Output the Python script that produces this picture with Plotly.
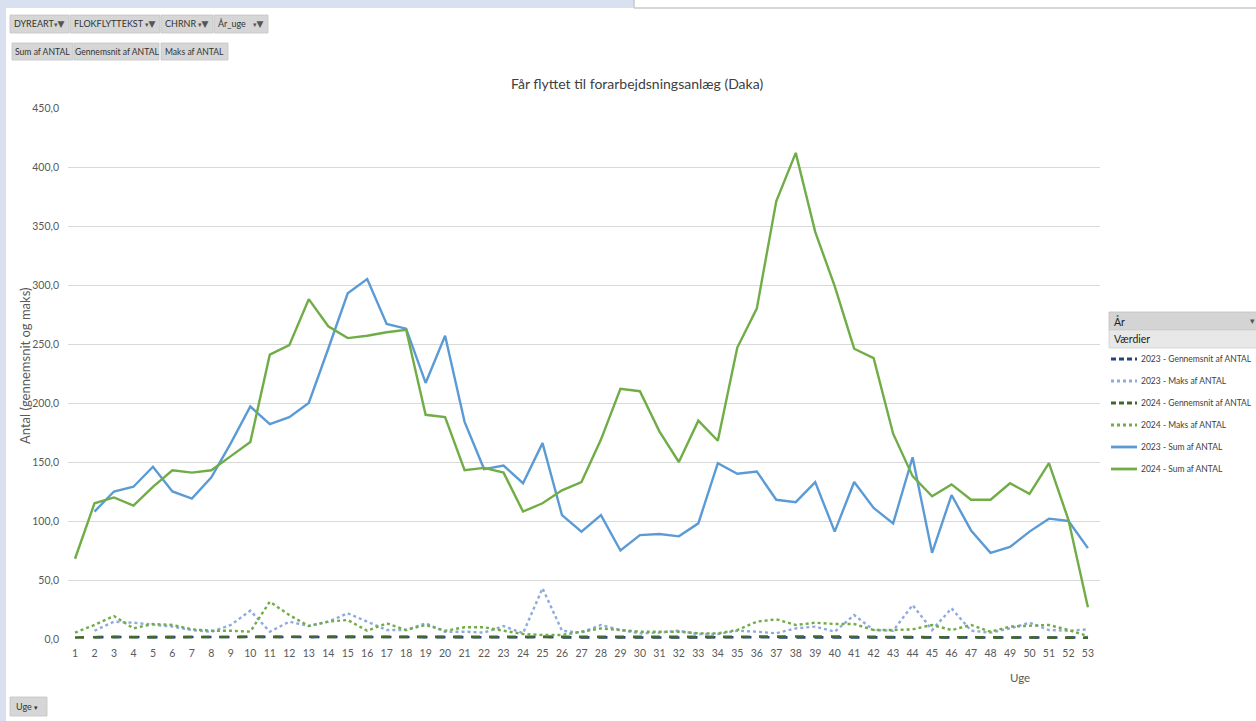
import plotly.graph_objects as go

# ---------------- data ----------------
weeks = list(range(1, 54))
week_labels = [str(w) for w in weeks]

sum_2023 = [None, 108, 125, 129, 146, 125, 119, 137, 166, 197, 182, 188, 200, 246, 293, 305,
            267, 263, 217, 257, 184, 144, 147, 132, 166, 105, 91, 105, 75, 88, 89, 87, 98,
            149, 140, 142, 118, 116, 133, 91, 133, 111, 98, 154, 73, 122, 92, 73, 78, 91,
            102, 100, 77]
sum_2024 = [68, 115, 120, 113, 129, 143, 141, 143, 155, 167, 241, 249, 288, 265, 255, 257,
            260, 262, 190, 188, 143, 145, 141, 108, 115, 126, 133, 169, 212, 210, 176, 150,
            185, 168, 247, 280, 371, 412, 345, 299, 246, 238, 174, 138, 121, 131, 118, 118,
            132, 123, 149, 101, 27]
maks_2023 = [None, 7, 14.7, 13.8, 11.9, 10.5, 7.6, 6.2, 11.9, 24, 6.2, 14.7, 11, 14.7, 21.8,
             14.7, 7.6, 7.6, 13.3, 6.2, 6.2, 5.4, 11, 4.8, 43, 7, 5.4, 11.9, 7.6, 4.8, 5.4,
             7, 4.2, 4.2, 7, 6.2, 4.8, 9, 10.5, 6.2, 20.3, 7.6, 7, 28.8, 7.6, 26, 7, 5.4, 9,
             13.8, 7.6, 7, 8.2]
maks_2024 = [5.4, 11.9, 19.5, 9, 12.7, 11.9, 8.2, 7, 7, 6.2, 31.6, 20.3, 11, 14.7, 16.1, 7,
             13.3, 7.6, 11.9, 7, 9.9, 9.9, 7, 4.2, 3.4, 3.4, 6.2, 9, 7.6, 6.2, 6.2, 6.2, 4.8,
             4.8, 7.6, 14.7, 16.7, 11.9, 13.8, 12.7, 12.7, 7.6, 7.6, 8.2, 11.9, 7.6, 11.9,
             6.2, 10.5, 11, 11.9, 7.6, 2.5]
gns_2023 = [None, 1.5, 1.8, 1.7, 1.6, 1.5, 1.4, 1.6, 1.7, 1.9, 1.6, 1.7, 1.6, 1.8, 1.9, 1.8,
            1.6, 1.7, 1.6, 1.7, 1.5, 1.4, 1.5, 1.4, 1.9, 1.4, 1.3, 1.5, 1.3, 1.4, 1.4, 1.3,
            1.4, 1.6, 1.5, 1.5, 1.4, 1.4, 1.5, 1.3, 1.6, 1.4, 1.4, 1.8, 1.3, 1.6, 1.4, 1.3,
            1.3, 1.4, 1.5, 1.4, 1.3]
gns_2024 = [1.3, 1.6, 1.8, 1.5, 1.6, 1.7, 1.6, 1.6, 1.7, 1.7, 2.2, 2.0, 1.9, 1.8, 1.8, 1.7,
            1.8, 1.8, 1.7, 1.6, 1.5, 1.6, 1.5, 1.3, 1.4, 1.4, 1.4, 1.6, 1.8, 1.8, 1.6, 1.5,
            1.6, 1.5, 1.8, 2.0, 2.2, 2.3, 2.1, 2.0, 1.8, 1.8, 1.6, 1.5, 1.5, 1.5, 1.5, 1.4,
            1.5, 1.5, 1.6, 1.4, 1.1]

y_ticks = [0, 50, 100, 150, 200, 250, 300, 350, 400, 450]
y_tick_labels = ["0,0", "50,0", "100,0", "150,0", "200,0", "250,0", "300,0", "350,0",
                 "400,0", "450,0"]

title_text = "Får flyttet til forarbejdsningsanlæg (Daka)"
y_title = "Antal (gennemsnit og maks)"
x_title = "Uge"
filter_fields = ["DYREART", "FLOKFLYTTEKST", "CHRNR", "År_uge"]
value_fields = ["Sum af ANTAL", "Gennemsnit af ANTAL", "Maks af ANTAL"]
legend_header = "År"
legend_sub = "Værdier"

# ---------------- layout geometry (pixels) ----------------
W, H = 1256, 721
L, R, T, B = 68, 1100, 108, 639
PW, PH = R - L, B - T


def fx(px):
    return (px - L) / PW


def fy(py):
    return (B - py) / PH


FONT = "Lato, Open Sans, sans-serif"

fig = go.Figure()

series = [
    ("2023 - Gennemsnit af ANTAL", gns_2023, "#264478", "dash", 2.6),
    ("2023 - Maks af ANTAL", maks_2023, "#8faadc", "dot", 2.4),
    ("2024 - Gennemsnit af ANTAL", gns_2024, "#43682b", "dash", 2.6),
    ("2024 - Maks af ANTAL", maks_2024, "#70ad47", "dot", 2.4),
    ("2023 - Sum af ANTAL", sum_2023, "#5b9bd5", "solid", 2.4),
    ("2024 - Sum af ANTAL", sum_2024, "#70ad47", "solid", 2.4),
]
for name, vals, col, dash, wd in series:
    fig.add_trace(go.Scatter(
        x=weeks, y=vals, name=name, mode="lines", showlegend=False,
        line=dict(color=col, dash=dash, width=wd), connectgaps=False,
    ))

shapes = []
annotations = []
BTN_FONT = dict(family=FONT, size=9, color="#333333")

# page background strips
shapes.append(dict(type="rect", xref="paper", yref="paper", x0=fx(0), x1=fx(634),
                   y0=fy(0), y1=fy(8), fillcolor="#d9e1f0", line=dict(width=0), layer="below"))
shapes.append(dict(type="rect", xref="paper", yref="paper", x0=fx(0), x1=fx(6),
                   y0=fy(0), y1=fy(721), fillcolor="#d9e1f0", line=dict(width=0), layer="below"))
shapes.append(dict(type="line", xref="paper", yref="paper", x0=fx(634), x1=fx(1256),
                   y0=fy(8), y1=fy(8), line=dict(color="#c8c8c8", width=1.5)))
shapes.append(dict(type="line", xref="paper", yref="paper", x0=fx(634), x1=fx(634),
                   y0=fy(0), y1=fy(8), line=dict(color="#c8c8c8", width=1.5)))

# filter buttons row 1
row1 = [(10, 69), (70, 160), (161, 213), (214, 268)]
for (a, b), lab in zip(row1, filter_fields):
    shapes.append(dict(type="rect", xref="paper", yref="paper", x0=fx(a), x1=fx(b),
                       y0=fy(15), y1=fy(33), fillcolor="#d6d6d6",
                       line=dict(color="#c4c4c4", width=0.8)))
    annotations.append(dict(xref="paper", yref="paper", x=fx(a + 2), y=fy(24),
                            text=lab, showarrow=False, xanchor="left", yanchor="middle",
                            font=BTN_FONT))
    annotations.append(dict(xref="paper", yref="paper", x=fx(b - 2), y=fy(24),
                            text="<span style='font-size:7px'>▾</span>▼",
                            showarrow=False, xanchor="right", yanchor="middle",
                            font=dict(family="DejaVu Sans", size=9, color="#555555")))
row2 = [(12, 73), (74, 159), (161, 228)]
for (a, b), lab in zip(row2, value_fields):
    shapes.append(dict(type="rect", xref="paper", yref="paper", x0=fx(a), x1=fx(b),
                       y0=fy(43), y1=fy(60), fillcolor="#d6d6d6",
                       line=dict(color="#c4c4c4", width=0.8)))
    annotations.append(dict(xref="paper", yref="paper", x=fx((a + b) / 2), y=fy(51.5),
                            text=lab, showarrow=False, xanchor="center", yanchor="middle",
                            font=dict(family=FONT, size=8.6, color="#333333")))
# bottom "Uge" button
shapes.append(dict(type="rect", xref="paper", yref="paper", x0=fx(10), x1=fx(47),
                   y0=fy(697), y1=fy(716), fillcolor="#d6d6d6",
                   line=dict(color="#c4c4c4", width=0.8)))
annotations.append(dict(xref="paper", yref="paper", x=fx(14), y=fy(706.5),
                        text="Uge <span style='font-size:7px'>▾</span>", showarrow=False,
                        xanchor="left", yanchor="middle", font=BTN_FONT))

# title
annotations.append(dict(xref="paper", yref="paper", x=fx(637), y=fy(84), text=title_text,
                        showarrow=False, xanchor="center", yanchor="middle",
                        font=dict(family=FONT, size=14, color="#404040")))
# y title
annotations.append(dict(xref="paper", yref="paper", x=fx(25), y=fy(366), text=y_title,
                        showarrow=False, textangle=-90, xanchor="center", yanchor="middle",
                        font=dict(family=FONT, size=13, color="#595959")))
# x title
annotations.append(dict(xref="paper", yref="paper", x=fx(1020), y=fy(677), text=x_title,
                        showarrow=False, xanchor="center", yanchor="middle",
                        font=dict(family=FONT, size=11.5, color="#595959")))

# legend header
shapes.append(dict(type="rect", xref="paper", yref="paper", x0=fx(1109), x1=fx(1262),
                   y0=fy(312), y1=fy(330), fillcolor="#d4d4d4",
                   line=dict(color="#c0c0c0", width=0.8)))
shapes.append(dict(type="rect", xref="paper", yref="paper", x0=fx(1109), x1=fx(1262),
                   y0=fy(330), y1=fy(348), fillcolor="#e8e8e8",
                   line=dict(color="#d0d0d0", width=0.8)))
annotations.append(dict(xref="paper", yref="paper", x=fx(1112), y=fy(321), text=legend_header,
                        showarrow=False, xanchor="left", yanchor="middle",
                        font=dict(family=FONT, size=10.5, color="#222222")))
annotations.append(dict(xref="paper", yref="paper", x=fx(1252), y=fy(321), text="▾",
                        showarrow=False, xanchor="center", yanchor="middle",
                        font=dict(family="DejaVu Sans", size=9, color="#555555")))
annotations.append(dict(xref="paper", yref="paper", x=fx(1112), y=fy(339), text=legend_sub,
                        showarrow=False, xanchor="left", yanchor="middle",
                        font=dict(family=FONT, size=10.5, color="#222222")))

# custom legend entries
for i, (name, vals, col, dash, wd) in enumerate(series):
    yy = 359 + 22 * i
    ldash = "5px,3px" if dash == "dash" else dash
    shapes.append(dict(type="line", xref="paper", yref="paper", x0=fx(1111), x1=fx(1137),
                       y0=fy(yy), y1=fy(yy), line=dict(color=col, dash=ldash, width=wd + 0.4)))
    annotations.append(dict(xref="paper", yref="paper", x=fx(1139), y=fy(yy), text=name,
                            showarrow=False, xanchor="left", yanchor="middle",
                            font=dict(family=FONT, size=8.5, color="#404040")))

fig.update_layout(
    width=W, height=H, autosize=False,
    margin=dict(l=L, r=W - R, t=T, b=H - B, pad=0),
    paper_bgcolor="white", plot_bgcolor="white",
    font=dict(family=FONT, color="#595959"),
    shapes=shapes, annotations=annotations,
    showlegend=False,
    xaxis=dict(range=[0.64, 53.62], tickmode="array", tickvals=weeks, ticktext=week_labels,
               showgrid=False, zeroline=False, showline=False, ticks="",
               tickfont=dict(family=FONT, size=10.5, color="#595959"), ticklabelstandoff=6),
    yaxis=dict(range=[0, 450], tickmode="array", tickvals=y_ticks, ticktext=y_tick_labels,
               showgrid=True, gridcolor="#d9d9d9", gridwidth=1, zeroline=False,
               showline=False, ticks="", ticklabelstandoff=8,
               tickfont=dict(family=FONT, size=10.5, color="#595959")),
)

fig.write_html("out.html", config={"displayModeBar": False},
               post_script="document.body.style.margin='0px';"
                           "document.body.style.overflow='hidden';")
